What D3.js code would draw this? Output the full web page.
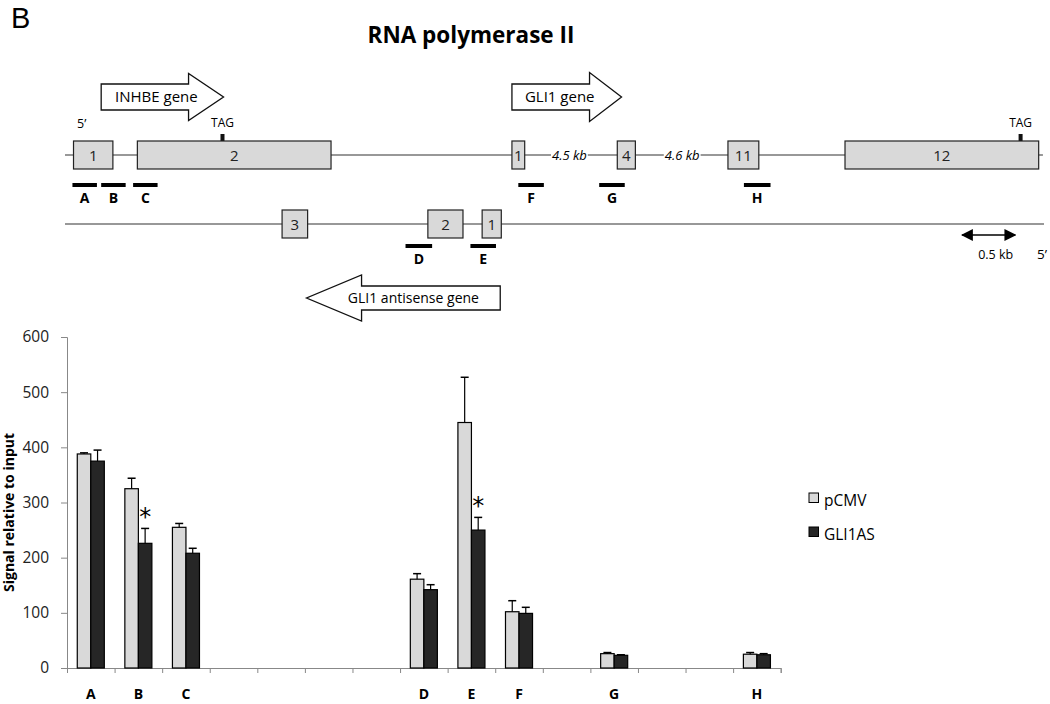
<!DOCTYPE html>
<html><head><meta charset="utf-8">
<script src="https://cdn.jsdelivr.net/npm/d3@7"></script>
<style>
html,body{margin:0;padding:0;background:#fff;}
svg text{font-family:"Open Sans",sans-serif;}
</style></head>
<body><svg id="c" width="1050" height="704"></svg>
<script>
// ---------- Bar chart data ----------
const categories = ["A","B","C","","","","","D","E","F","","G","","","H"];
const seriesNames = ["pCMV","GLI1AS"];
const pCMV      = [388, 325, 255, null, null, null, null, 161, 445, 102, null, 26, null, null, 25];
const pCMVErr   = [2, 19, 7, null, null, null, null, 10, 82, 20, null, 2, null, null, 3];
const gli1as    = [375, 226, 208, null, null, null, null, 142, 250, 99, null, 23, null, null, 24];
const gli1asErr = [20, 27, 9, null, null, null, null, 9, 23, 11, null, 1, null, null, 2];
const significant = ["B","E"];
const yTicks = [0,100,200,300,400,500,600];

// ---------- Gene diagram data (kb units) ----------
const exonsTop = [
  {label:"1", start:0.08, end:0.45},{label:"2", start:0.68, end:2.50},
  {label:"1", start:4.20, end:4.32},{label:"4", start:5.19, end:5.36},
  {label:"11", start:6.23, end:6.52},{label:"12", start:7.33, end:9.15}];
const exonsBottom = [
  {label:"3", start:2.04, end:2.28},{label:"2", start:3.41, end:3.74},{label:"1", start:3.92, end:4.10}];
const probesTop = [
  {label:"A", start:0.07, end:0.30},{label:"B", start:0.34, end:0.57},{label:"C", start:0.64, end:0.87},
  {label:"F", start:4.26, end:4.50},{label:"G", start:5.02, end:5.26},{label:"H", start:6.38, end:6.63}];
const probesBottom = [{label:"D", start:3.20, end:3.45},{label:"E", start:3.81, end:4.05}];
const stopCodons = [1.48, 8.98];
const geneArrows = [
  {label:"INHBE gene", from:0.34, to:1.49},
  {label:"GLI1 gene", from:4.20, to:5.23},
  {label:"GLI1 antisense gene", from:4.09, to:2.27}];
const intronBreaks = [{label:"4.5 kb", at:4.74},{label:"4.6 kb", at:5.80}];
const scaleBar = {label:"0.5 kb", from:8.43, to:8.93};
const diagramSpan = [0, 9.2];

const svg = d3.select("#c");

// Panel letter and title
svg.append("text").attr("x",11).attr("y",28).attr("font-size",29)
  .style("font-family","'Liberation Sans', Arial, sans-serif").text("B");
svg.append("text").attr("x",471).attr("y",43).attr("text-anchor","middle")
  .attr("font-size",22.5).attr("font-weight","bold").text("RNA polymerase II");

// ---------- Diagram ----------
const kx = d3.scaleLinear().domain(diagramSpan).range([65, 1044]);
const yTop = 155, yBot = 224, exH = 28;
const g = svg.append("g");

// backbone lines
g.append("line").attr("x1",kx(0)).attr("x2",kx(9.19)).attr("y1",yTop).attr("y2",yTop).attr("stroke","#333").attr("stroke-width",1.1);
g.append("line").attr("x1",kx(0)).attr("x2",kx(9.2)).attr("y1",yBot).attr("y2",yBot).attr("stroke","#333").attr("stroke-width",1.1);

// intron break labels
intronBreaks.forEach(b=>{
  const t = g.append("text").attr("x",kx(b.at)).attr("y",yTop+4.5).attr("text-anchor","middle")
    .attr("font-size",13).attr("font-style","italic").text(b.label);
  const bb = t.node().getBBox();
  g.insert("rect", "text").attr("x",bb.x-1).attr("y",bb.y).attr("width",bb.width+2).attr("height",bb.height).attr("fill","#fff");
});

// stop codons
stopCodons.forEach(s=>{
  g.append("rect").attr("x",kx(s)-2).attr("y",yTop-21).attr("width",4).attr("height",7).attr("fill","#111");
  g.append("text").attr("x",kx(s)).attr("y",yTop-28).attr("text-anchor","middle").attr("font-size",12).text("TAG");
});
g.append("text").attr("x",77).attr("y",yTop-27).attr("font-size",12.5).text("5’");

function drawExons(list, yc){
  list.forEach(e=>{
    g.append("rect").attr("x",kx(e.start)).attr("y",yc-exH/2).attr("width",kx(e.end)-kx(e.start)).attr("height",exH)
      .attr("fill","#d9d9d9").attr("stroke","#222").attr("stroke-width",1.2);
    g.append("text").attr("x",(kx(e.start)+kx(e.end))/2).attr("y",yc+5.5).attr("text-anchor","middle")
      .attr("font-size",15).attr("fill","#222").text(e.label);
  });
}
drawExons(exonsTop, yTop);
drawExons(exonsBottom, yBot);

function drawProbes(list, yl){
  list.forEach(p=>{
    g.append("rect").attr("x",kx(p.start)).attr("y",yl-2).attr("width",kx(p.end)-kx(p.start)).attr("height",4).attr("fill","#000");
    g.append("text").attr("x",(kx(p.start)+kx(p.end))/2).attr("y",yl+18).attr("text-anchor","middle")
      .attr("font-size",14).attr("font-weight","bold").text(p.label);
  });
}
drawProbes(probesTop, 185);
drawProbes(probesBottom, 246);

// gene arrows
const arrowStyle = {
  "INHBE gene": {yc:97, body:26, head:47, headLen:35, textShift:-6, size:15},
  "GLI1 gene": {yc:97, body:26, head:49, headLen:32, textShift:-7, size:15},
  "GLI1 antisense gene": {yc:298, body:24, head:46, headLen:55, textShift:10, size:14}
};
geneArrows.forEach(a=>{
  const s = arrowStyle[a.label];
  const x0 = kx(a.from), x1 = kx(a.to), dir = Math.sign(x1-x0);
  const xh = x1 - dir*s.headLen;
  const pts = [[x0, s.yc-s.body/2],[xh, s.yc-s.body/2],[xh, s.yc-s.head/2],[x1, s.yc],
               [xh, s.yc+s.head/2],[xh, s.yc+s.body/2],[x0, s.yc+s.body/2]];
  g.append("path").attr("d", d3.line()(pts)+"Z").attr("fill","#fff").attr("stroke","#111").attr("stroke-width",1.3);
  g.append("text").attr("x",(x0+x1)/2 + s.textShift).attr("y",s.yc+5).attr("text-anchor","middle")
    .attr("font-size",s.size).text(a.label);
});

// scale bar
svg.append("defs").append("marker").attr("id","ah").attr("viewBox","0 0 10 10").attr("refX",9).attr("refY",5)
  .attr("markerWidth",8).attr("markerHeight",8).attr("orient","auto-start-reverse")
  .append("path").attr("d","M0,0L10,5L0,10Z").attr("fill","#000");
g.append("line").attr("x1",kx(scaleBar.from)).attr("x2",kx(scaleBar.to)).attr("y1",235).attr("y2",235)
  .attr("stroke","#000").attr("stroke-width",1.5).attr("marker-start","url(#ah)").attr("marker-end","url(#ah)");
g.append("text").attr("x",(kx(scaleBar.from)+kx(scaleBar.to))/2+7).attr("y",259).attr("text-anchor","middle").attr("font-size",12.5).text(scaleBar.label);
g.append("text").attr("x",1037).attr("y",259).attr("font-size",13.5).text("5’");

// ---------- Bar chart ----------
const X0 = 67, X1 = 780.7, Y0 = 668, Y1 = 337;
const y = d3.scaleLinear().domain([0,600]).range([Y0,Y1]);
const xLin = d3.scaleLinear().domain([0,categories.length]).range([X0,X1]);
const xBand = d3.scaleBand().domain(d3.range(categories.length)).range([X0,X1]).padding(0);
const xSub = d3.scaleBand().domain(seriesNames).range([0,xBand.bandwidth()]).paddingInner(0).paddingOuter(0.76);
const chart = svg.append("g");

// y axis
const yAx = chart.append("g").attr("transform",`translate(${X0},0)`)
  .call(d3.axisLeft(y).tickValues(yTicks).tickSize(6).tickPadding(12));
yAx.selectAll("path,line").attr("stroke","#888");
yAx.selectAll("text").attr("font-size",15.5).attr("fill","#222").style("font-family","'Open Sans', sans-serif");

chart.append("text").attr("transform",`translate(14,${(Y0+Y1)/2+10}) rotate(-90)`).attr("text-anchor","middle")
  .attr("font-size",14).attr("font-weight","bold").text("Signal relative to input");

// x axis
const xAx = chart.append("g").attr("transform",`translate(0,${Y0})`)
  .call(d3.axisBottom(xLin).tickValues(d3.range(categories.length+1)).tickSize(5).tickFormat(""));
xAx.selectAll("path,line").attr("stroke","#888");
const xLab = chart.append("g").attr("transform",`translate(0,${Y0})`)
  .call(d3.axisBottom(xBand).tickSize(0).tickPadding(21).tickFormat(i=>categories[i]));
xLab.select(".domain").remove();
xLab.selectAll("text").attr("font-size",14).attr("font-weight","bold").attr("fill","#000").style("font-family","'Open Sans', sans-serif");

const series = [
  {name:"pCMV", vals:pCMV, errs:pCMVErr, fill:"#d9d9d9"},
  {name:"GLI1AS", vals:gli1as, errs:gli1asErr, fill:"#262626"}];
series.forEach(s=>{
  s.vals.forEach((v,i)=>{
    if(v==null) return;
    const bx = xBand(i)+xSub(s.name), bw = xSub.bandwidth();
    chart.append("rect").attr("x",bx).attr("y",y(v)).attr("width",bw).attr("height",y(0)-y(v))
      .attr("fill",s.fill).attr("stroke","#000").attr("stroke-width",1.2);
    const e = s.errs[i];
    const cx = bx+bw/2;
    chart.append("line").attr("x1",cx).attr("x2",cx).attr("y1",y(v)).attr("y2",y(v+e)).attr("stroke","#000").attr("stroke-width",1.2);
    chart.append("line").attr("x1",cx-4).attr("x2",cx+4).attr("y1",y(v+e)).attr("y2",y(v+e)).attr("stroke","#000").attr("stroke-width",1.5);
    if(s.name==="GLI1AS" && significant.includes(categories[i])){
      chart.append("text").attr("x",cx).attr("y",y(v+e)-3).attr("text-anchor","middle")
        .attr("font-size",24).style("font-family","'DejaVu Sans', sans-serif").text("*");
    }
  });
});

// legend
const leg = svg.append("g").attr("transform","translate(809,493)");
series.forEach((s,i)=>{
  leg.append("rect").attr("x",0).attr("y",i*34).attr("width",9.5).attr("height",9.5).attr("fill",s.fill).attr("stroke","#000").attr("stroke-width",1);
  leg.append("text").attr("x",15).attr("y",i*34+13).attr("font-size",15.5).text(s.name);
});
</script></body></html>
